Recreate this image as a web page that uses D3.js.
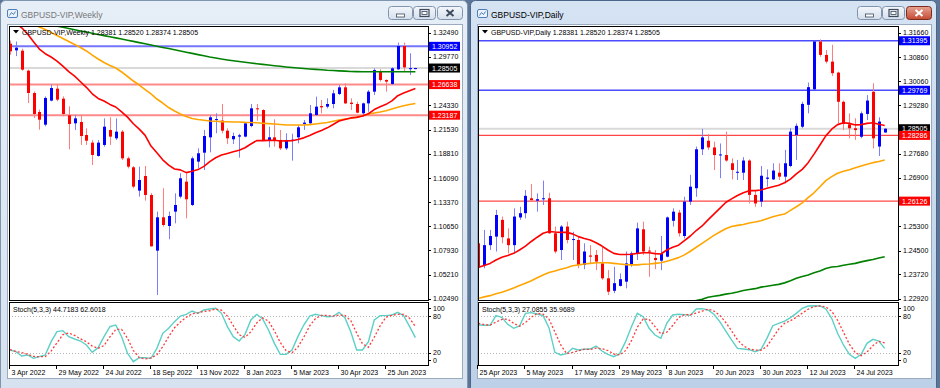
<!DOCTYPE html>
<html>
<head>
<meta charset="utf-8">
<script src="https://cdn.jsdelivr.net/npm/d3@7"></script>
<style>
  body { margin: 0; background: #fff; }
  svg { display: block; font-family: "Liberation Sans", Arial, sans-serif; }
</style>
</head>
<body>
<svg id="chart" width="940" height="388"></svg>
<script>
// ---------- weekly window data (one bar per week, 3 Apr 2022 .. 30 Jul 2023) ----------
const weeklyDateLabels = ["3 Apr 2022", "29 May 2022", "24 Jul 2022", "18 Sep 2022", "13 Nov 2022",
  "8 Jan 2023", "5 Mar 2023", "30 Apr 2023", "25 Jun 2023"];
const weeklyPriceTicks = [1.32490, 1.29770, 1.27050, 1.24330, 1.21530, 1.18810, 1.16090,
  1.13370, 1.10650, 1.07930, 1.05210, 1.02490];

const weeklyOpen = [1.3125,1.3050,1.3046,1.2821,1.2569,1.2355,1.2212,1.2483,1.2618,1.2505,
  1.2317,1.2227,1.2242,1.2095,1.2009,1.1859,1.1983,1.2152,1.2058,1.2133,
  1.1832,1.1731,1.1468,1.1633,1.1419,1.0791,1.1167,1.1069,1.1231,1.1400,
  1.1569,1.1306,1.1795,1.1896,1.2069,1.2265,1.2258,1.2144,1.2047,1.2077,
  1.2077,1.2197,1.2396,1.2377,1.2039,1.2069,1.2039,1.1945,1.2036,1.2069,
  1.2220,1.2227,1.2321,1.2422,1.2415,1.2445,1.2558,1.2633,1.2460,1.2445,
  1.2340,1.2452,1.2584,1.2810,1.2716,1.2671,1.2836,1.3099,1.2838,1.28381];
const weeklyHigh = [1.3160,1.3150,1.3069,1.2832,1.2587,1.2381,1.2531,1.2663,1.2663,1.2531,
  1.2419,1.2321,1.2321,1.2171,1.2039,1.2039,1.2283,1.2295,1.2283,1.2152,
  1.1851,1.1746,1.1738,1.1746,1.1440,1.1231,1.1494,1.1231,1.1437,1.1663,
  1.1663,1.1851,1.1945,1.2152,1.2321,1.2340,1.2445,1.2171,1.2122,1.2110,
  1.2238,1.2445,1.2445,1.2385,1.2189,1.2272,1.2152,1.2114,1.2110,1.2208,
  1.2264,1.2434,1.2528,1.2490,1.2509,1.2603,1.2659,1.2678,1.2509,1.2471,
  1.2460,1.2603,1.2847,1.2836,1.2722,1.2858,1.3137,1.3137,1.3017,1.28520];
const weeklyLow = [1.3000,1.2985,1.2821,1.2456,1.2287,1.2155,1.2193,1.2475,1.2475,1.2306,
  1.1934,1.2152,1.1983,1.1983,1.1757,1.1851,1.1964,1.1983,1.2039,1.1813,
  1.1719,1.1494,1.1400,1.1355,1.0836,1.0291,1.1062,1.0919,1.1099,1.1381,
  1.1156,1.1295,1.1719,1.1701,1.1900,1.2115,1.2114,1.1994,1.1994,1.1840,
  1.2069,1.2182,1.2257,1.2032,1.1956,1.1964,1.1926,1.1926,1.1806,1.2002,
  1.2152,1.2208,1.2310,1.2340,1.2396,1.2396,1.2546,1.2445,1.2377,1.2340,
  1.2302,1.2358,1.2546,1.2697,1.2584,1.2659,1.2828,1.2810,1.2772,1.28374];
const weeklyClose = [1.3039,1.3080,1.2832,1.2569,1.2332,1.2268,1.2513,1.2625,1.2494,1.2332,
  1.2219,1.2283,1.2084,1.2031,1.1870,1.2009,1.2189,1.2077,1.2133,1.1832,
  1.1738,1.1513,1.1588,1.1419,1.0840,1.1167,1.1080,1.1182,1.1306,1.1607,
  1.1370,1.1832,1.1889,1.2084,1.2295,1.2275,1.2144,1.2058,1.2084,1.2092,
  1.2227,1.2396,1.2385,1.2039,1.2069,1.2039,1.1945,1.2039,1.2042,1.2182,
  1.2235,1.2340,1.2415,1.2407,1.2445,1.2565,1.2633,1.2452,1.2445,1.2347,
  1.2452,1.2584,1.2828,1.2716,1.2697,1.2847,1.3099,1.2858,1.2850,1.28505];

// moving averages as they appear on the weekly chart
const weeklyMaRed = [1.3383,1.3354,1.3304,1.3234,1.3148,1.3064,1.3012,1.2975,1.2929,1.2872,
  1.2810,1.2760,1.2696,1.2633,1.2560,1.2508,1.2478,1.2440,1.2411,1.2356,
  1.2297,1.2222,1.2162,1.2091,1.1971,1.1894,1.1815,1.1755,1.1712,1.1702,
  1.1671,1.1687,1.1705,1.1741,1.1794,1.1839,1.1869,1.1887,1.1906,1.1923,
  1.1952,1.1994,1.2032,1.2032,1.2035,1.2036,1.2027,1.2029,1.2030,1.2044,
  1.2063,1.2090,1.2120,1.2147,1.2176,1.2213,1.2253,1.2271,1.2288,1.2294,
  1.2309,1.2335,1.2382,1.2414,1.2441,1.2480,1.2539,1.2569,1.2595,1.2619];
const weeklyMaOrange = [1.3482,1.3449,1.3409,1.3370,1.3341,1.3313,1.3285,1.3251,1.3217,1.3184,
  1.3150,1.3116,1.3082,1.3043,1.2997,1.2952,1.2913,1.2879,1.2851,1.2806,
  1.2755,1.2704,1.2659,1.2608,1.2558,1.2501,1.2456,1.2405,1.2366,1.2332,
  1.2304,1.2281,1.2270,1.2261,1.2253,1.2250,1.2246,1.2244,1.2242,1.2242,
  1.2238,1.2236,1.2233,1.2228,1.2224,1.2219,1.2214,1.2208,1.2208,1.2208,
  1.2208,1.2212,1.2219,1.2227,1.2236,1.2250,1.2264,1.2276,1.2285,1.2298,
  1.2312,1.2329,1.2343,1.2355,1.2369,1.2389,1.2408,1.2425,1.2439,1.2450];
const weeklyMaGreen = [1.3432,1.3418,1.3405,1.3391,1.3378,1.3364,1.3351,1.3337,1.3323,1.3310,
  1.3296,1.3283,1.3269,1.3256,1.3242,1.3229,1.3216,1.3204,1.3191,1.3178,
  1.3164,1.3151,1.3137,1.3124,1.3110,1.3097,1.3083,1.3070,1.3056,1.3043,
  1.3029,1.3016,1.3002,1.2989,1.2975,1.2964,1.2952,1.2942,1.2933,1.2924,
  1.2916,1.2907,1.2899,1.2892,1.2885,1.2877,1.2870,1.2863,1.2857,1.2851,
  1.2845,1.2840,1.2835,1.2831,1.2826,1.2823,1.2819,1.2816,1.2812,1.2810,
  1.2809,1.2808,1.2808,1.2808,1.2808,1.2808,1.2808,1.2808,1.2808,1.2808];

const weeklyStochMain = [24.4,21.7,14.6,16.2,10.7,13.5,16.2,38.0,54.4,56.0,
  46.2,42.4,39.1,32.6,20.6,28.2,46.2,62.6,65.3,46.2,
  19.0,5.3,11.8,11.8,10.7,27.1,51.7,59.9,70.8,80.0,
  82.8,88.2,84.4,89.9,91.5,92.6,84.4,62.6,46.2,39.1,
  50.0,73.5,82.8,75.1,57.1,35.3,17.3,17.3,24.4,46.2,
  65.3,80.0,82.8,80.6,78.9,79.5,86.0,77.3,54.4,24.4,
  24.4,38.0,73.5,80.6,80.6,81.7,86.0,80.6,63.0,44.72];
const weeklyStochSignal = [25.0,22.0,20.2,17.5,13.8,13.5,13.5,22.6,36.2,49.5,
  52.2,48.2,42.6,38.0,30.8,27.1,31.7,45.7,58.0,58.0,
  43.5,23.5,12.0,9.6,11.4,16.5,29.8,46.2,60.8,70.2,
  77.9,83.7,85.1,87.5,88.6,91.3,89.5,79.9,64.4,49.3,
  45.1,54.2,68.8,77.1,71.7,55.8,36.6,23.3,19.7,29.3,
  45.3,63.8,76.0,81.1,80.8,79.7,81.5,80.9,72.6,52.0,
  34.4,28.9,45.3,64.0,78.2,81.0,82.8,82.8,76.5,62.60];

const weeklyLevels = [1.30952, 1.26638, 1.23187];
const weeklyLast = [1.28381, 1.28520, 1.28374, 1.28505];
const weeklyStochLast = [44.7183, 62.6018];

// ---------- daily window data (25 Apr 2023 .. 31 Jul 2023) ----------
const dailyDateLabels = ["25 Apr 2023", "5 May 2023", "17 May 2023", "29 May 2023", "8 Jun 2023",
  "20 Jun 2023", "30 Jun 2023", "12 Jul 2023", "24 Jul 2023"];
const dailyPriceTicks = [1.31660, 1.30860, 1.30060, 1.29280, 1.28480, 1.27680, 1.26900,
  1.26120, 1.25300, 1.24500, 1.23720, 1.22920];

const dailyOpen = [1.2474,1.2403,1.2468,1.2496,1.2551,1.2490,1.2468,1.2559,1.2573,1.2622,
  1.2614,1.2619,1.2622,1.2507,1.2452,1.2529,1.2485,1.2485,1.2403,1.2434,
  1.2436,1.2408,1.2359,1.2318,1.2334,1.2348,1.2403,1.2439,1.2520,1.2450,
  1.2426,1.2417,1.2430,1.2548,1.2575,1.2498,1.2611,1.2655,1.2783,1.2811,
  1.2789,1.2763,1.2764,1.2737,1.2706,1.2706,1.2746,1.2633,1.2611,1.2686,
  1.2684,1.2706,1.2693,1.2728,1.2830,1.2857,1.2929,1.2980,1.3137,1.3093,
  1.3071,1.3035,1.2939,1.2865,1.2852,1.2824,1.2899,1.2972,1.2792,1.28381];
const dailyHigh = [1.2507,1.2518,1.2518,1.2584,1.2562,1.2523,1.2589,1.2594,1.2649,1.2669,
  1.2638,1.2680,1.2640,1.2529,1.2534,1.2545,1.2512,1.2496,1.2474,1.2468,
  1.2452,1.2463,1.2386,1.2397,1.2375,1.2447,1.2447,1.2542,1.2545,1.2463,
  1.2452,1.2498,1.2562,1.2589,1.2584,1.2627,1.2699,1.2792,1.2850,1.2833,
  1.2808,1.2802,1.2841,1.2753,1.2748,1.2757,1.2750,1.2647,1.2728,1.2717,
  1.2737,1.2737,1.2781,1.2852,1.2868,1.2939,1.3002,1.3140,1.3144,1.3109,
  1.3126,1.3038,1.2943,1.2901,1.2885,1.2907,1.2961,1.3000,1.2888,1.28520];
const dailyLow = [1.2386,1.2392,1.2452,1.2447,1.2474,1.2441,1.2441,1.2551,1.2556,1.2611,
  1.2578,1.2600,1.2505,1.2441,1.2419,1.2474,1.2419,1.2392,1.2389,1.2408,
  1.2386,1.2354,1.2304,1.2310,1.2332,1.2326,1.2397,1.2419,1.2436,1.2364,
  1.2389,1.2386,1.2428,1.2529,1.2496,1.2490,1.2600,1.2627,1.2764,1.2781,
  1.2715,1.2688,1.2742,1.2684,1.2682,1.2682,1.2605,1.2594,1.2594,1.2660,
  1.2682,1.2682,1.2671,1.2724,1.2748,1.2852,1.2901,1.2978,1.3087,1.3065,
  1.3024,1.2868,1.2846,1.2819,1.2814,1.2819,1.2879,1.2786,1.2761,1.28374];
const dailyClose = [1.2395,1.2468,1.2498,1.2567,1.2494,1.2468,1.2562,1.2573,1.2630,1.2616,
  1.2619,1.2622,1.2507,1.2447,1.2529,1.2485,1.2488,1.2403,1.2447,1.2430,
  1.2414,1.2359,1.2315,1.2343,1.2356,1.2408,1.2441,1.2523,1.2447,1.2447,
  1.2419,1.2439,1.2559,1.2578,1.2507,1.2611,1.2660,1.2783,1.2822,1.2789,
  1.2764,1.2766,1.2746,1.2715,1.2709,1.2746,1.2633,1.2605,1.2696,1.2690,
  1.2713,1.2693,1.2737,1.2841,1.2860,1.2932,1.2987,1.3137,1.3093,1.3071,
  1.3033,1.2939,1.2866,1.2852,1.2846,1.2901,1.2943,1.2819,1.2874,1.28505];

const dailyMaRed = [1.2395,1.2401,1.2408,1.2419,1.2428,1.2434,1.2441,1.2452,1.2465,1.2480,
  1.2494,1.2507,1.2513,1.2511,1.2510,1.2510,1.2505,1.2496,1.2490,1.2485,
  1.2476,1.2465,1.2452,1.2441,1.2437,1.2437,1.2438,1.2441,1.2443,1.2443,
  1.2440,1.2439,1.2452,1.2461,1.2468,1.2483,1.2498,1.2516,1.2531,1.2551,
  1.2570,1.2589,1.2608,1.2620,1.2631,1.2640,1.2647,1.2647,1.2649,1.2655,
  1.2660,1.2665,1.2673,1.2685,1.2702,1.2717,1.2739,1.2767,1.2797,1.2827,
  1.2849,1.2864,1.2870,1.2868,1.2863,1.2864,1.2868,1.2870,1.2865,1.2861];
const dailyMaOrange = [1.2293,1.2298,1.2302,1.2308,1.2313,1.2320,1.2327,1.2335,1.2343,1.2351,
  1.2361,1.2370,1.2378,1.2383,1.2389,1.2394,1.2400,1.2403,1.2406,1.2408,
  1.2410,1.2410,1.2410,1.2408,1.2406,1.2404,1.2403,1.2403,1.2405,1.2406,
  1.2408,1.2410,1.2415,1.2421,1.2427,1.2436,1.2448,1.2461,1.2474,1.2487,
  1.2500,1.2511,1.2522,1.2529,1.2533,1.2536,1.2541,1.2544,1.2548,1.2555,
  1.2561,1.2566,1.2570,1.2582,1.2594,1.2607,1.2624,1.2640,1.2660,1.2680,
  1.2693,1.2704,1.2711,1.2716,1.2722,1.2728,1.2734,1.2739,1.2743,1.2748];
const dailyMaGreen = [null,null,null,null,null,null,null,null,null,null,
  null,null,null,null,null,null,null,null,null,null,
  null,null,null,null,null,null,null,null,null,null,
  null,null,null,null,1.2270,1.2276,1.2281,1.2286,1.2290,1.2297,
  1.2300,1.2303,1.2307,1.2310,1.2314,1.2319,1.2322,1.2325,1.2330,1.2333,
  1.2336,1.2339,1.2344,1.2351,1.2359,1.2365,1.2370,1.2377,1.2383,1.2391,
  1.2396,1.2398,1.2402,1.2405,1.2408,1.2413,1.2417,1.2421,1.2426,1.2430];

const dailyStochMain = [65.3,64.8,64.8,80.6,77.9,66.4,59.9,63.7,84.4,85.5,
  83.3,80.6,60.9,20.6,16.2,18.4,27.1,24.4,25.5,26.0,
  30.9,22.7,17.3,13.5,18.4,38.0,62.6,84.4,78.9,59.9,
  48.9,43.5,68.0,81.7,82.8,82.2,81.1,91.5,92.0,89.9,
  82.8,70.8,55.5,40.8,27.1,26.0,24.9,21.7,25.5,43.5,
  64.2,68.0,71.8,77.3,84.4,92.6,96.4,96.9,96.4,91.5,
  76.2,51.7,32.6,17.3,10.7,17.3,35.3,41.8,39.1,27.09];
const dailyStochSignal = [68.0,66.0,65.0,70.1,74.4,75.0,68.1,63.3,69.3,77.9,
  84.4,83.1,74.9,54.0,32.6,18.4,20.6,23.3,25.7,25.3,
  27.5,26.5,23.6,17.8,16.4,23.3,39.7,61.7,75.3,74.4,
  62.6,50.8,53.5,64.4,77.5,82.2,82.0,84.9,88.2,91.1,
  88.2,81.2,69.7,55.7,41.1,31.3,26.0,24.2,24.0,30.2,
  44.4,58.6,68.0,72.4,77.8,84.8,91.1,95.3,96.6,94.9,
  88.0,73.1,53.5,33.9,20.2,15.1,21.1,31.5,38.7,35.97];

const dailyBlueLevels = [1.31395, 1.29769];
const dailyRedLevels = [1.28286, 1.26126];
const dailyLast = [1.28381, 1.28520, 1.28374, 1.28505];
const dailyStochLast = [27.0855, 35.9689];

const stochLevels = [20, 80];
const stochTickLabels = [100, 80, 20, 0];
const labelEvery = 8;

// ---------- drawing ----------
const svg = d3.select("#chart");
const defs = svg.append("defs");
svg.append("rect").attr("width", 940).attr("height", 388).attr("fill", "#5d7698");

const fmt5 = d3.format(".5f");
const fmt4 = d3.format(".4f");

function gradient(id, top, bottom) {
  const lg = defs.append("linearGradient").attr("id", id).attr("x1", 0).attr("y1", 0).attr("x2", 0).attr("y2", 1);
  lg.append("stop").attr("offset", "0%").attr("stop-color", top);
  lg.append("stop").attr("offset", "100%").attr("stop-color", bottom);
}
gradient("frameActive", "#d5e3f3", "#bcd0e8");
gradient("frameInactive", "#e6eef7", "#d6e2ef");
gradient("btn", "#f4f7fb", "#d4dfec");
gradient("btnClose", "#e8a493", "#c24a33");

function drawChrome(win) {
  const g = svg.append("g");
  const w = win.x1 - win.x0;
  g.append("rect")
    .attr("x", win.x0 + 0.5).attr("y", 0.5)
    .attr("width", w - 1).attr("height", 392)
    .attr("rx", 5)
    .attr("fill", win.active ? "url(#frameActive)" : "url(#frameInactive)")
    .attr("stroke", win.active ? "#4a6689" : "#7f94ae");

  // client area
  g.append("rect")
    .attr("x", win.x0 + 7.5).attr("y", 24.5)
    .attr("width", w - 13).attr("height", 354)
    .attr("fill", "#fff").attr("stroke", "#9aabbf");

  // small icon
  const ic = g.append("g").attr("transform", `translate(${win.x0 + 7},9)`);
  ic.append("rect").attr("x", 0.5).attr("y", 0.5).attr("width", 10).attr("height", 8).attr("rx", 1.5)
    .attr("fill", "#e9f2fb").attr("stroke", "#4f7fb7");
  ic.append("path").attr("d", "M2.5,6.5 L4.5,3.5 L6.5,5.5 L8.5,2.5").attr("fill", "none").attr("stroke", "#4f7fb7");

  g.append("text")
    .attr("x", win.x0 + 21).attr("y", 18)
    .attr("font-size", 8.5)
    .attr("fill", win.active ? "#000" : "#777")
    .text(win.title);

  // caption buttons
  const bx = win.x1 - 80;
  const buttons = [
    { x: bx, w: 24, kind: "min" },
    { x: bx + 25, w: 22, kind: "max" },
    { x: bx + 49, w: 25, kind: "close" }
  ];
  buttons.forEach(b => {
    const isClose = b.kind === "close" && win.active;
    g.append("rect")
      .attr("x", b.x + 0.5).attr("y", 6.5).attr("width", b.w).attr("height", 13).attr("rx", 3)
      .attr("fill", isClose ? "url(#btnClose)" : "url(#btn)")
      .attr("stroke", isClose ? "#7d2a1c" : "#8194ac");
    const cx = b.x + b.w / 2 + 0.5, cy = 13;
    if (b.kind === "min") {
      g.append("rect").attr("x", cx - 4).attr("y", cy + 1).attr("width", 8).attr("height", 3)
        .attr("fill", "#fff").attr("stroke", "#3c4a5c").attr("stroke-width", 0.8);
    } else if (b.kind === "max") {
      g.append("rect").attr("x", cx - 4.5).attr("y", cy - 3.5).attr("width", 9).attr("height", 7)
        .attr("fill", "none").attr("stroke", "#3c4a5c").attr("stroke-width", 1.2);
      g.append("rect").attr("x", cx - 2.5).attr("y", cy - 1.5).attr("width", 5).attr("height", 3)
        .attr("fill", "#fff").attr("stroke", "#3c4a5c").attr("stroke-width", 0.8);
    } else {
      g.append("path")
        .attr("d", `M${cx - 3.5},${cy - 3} L${cx + 3.5},${cy + 3} M${cx + 3.5},${cy - 3} L${cx - 3.5},${cy + 3}`)
        .attr("stroke", isClose ? "#fff" : "#3c4a5c").attr("stroke-width", 2);
    }
  });
}

function drawChart(win) {
  const n = win.close.length;
  const plotL = win.plotL, plotR = win.plotR;
  const mainTop = 26, mainBottom = 300, stochTop = 302, stochBottom = 365;

  const x = d3.scaleLinear().domain([0, n - 1]).range(win.xRange);
  const y = d3.scaleLinear().domain(win.yDomain).range([32.7, 298.7]);
  const ys = d3.scaleLinear().domain([0, 100]).range([364.9, 303.8]);

  const g = svg.append("g");

  defs.append("clipPath").attr("id", win.id + "Main")
    .append("rect").attr("x", plotL + 1).attr("y", mainTop + 1)
    .attr("width", plotR - plotL - 1).attr("height", mainBottom - mainTop - 1);
  defs.append("clipPath").attr("id", win.id + "Stoch")
    .append("rect").attr("x", plotL + 1).attr("y", stochTop + 1)
    .attr("width", plotR - plotL - 1).attr("height", stochBottom - stochTop - 1);

  const main = g.append("g").attr("clip-path", `url(#${win.id}Main)`);

  // horizontal objects
  win.levels.forEach(l => {
    main.append("line")
      .attr("x1", plotL).attr("x2", plotR)
      .attr("y1", y(l.value)).attr("y2", y(l.value))
      .attr("stroke", l.color).attr("stroke-width", l.width);
  });

  // candles
  const bars = d3.range(n).map(i => ({
    i, o: win.open[i], h: win.high[i], l: win.low[i], c: win.close[i]
  }));
  const candle = main.selectAll("g.bar").data(bars).join("g").attr("class", "bar");
  candle.append("line")
    .attr("x1", d => Math.round(x(d.i)) + 0.5).attr("x2", d => Math.round(x(d.i)) + 0.5)
    .attr("y1", d => y(d.h)).attr("y2", d => y(d.l))
    .attr("stroke", d => d.c >= d.o ? "#7d7dff" : "#ff7d7d")
    .attr("stroke-width", 1);
  candle.append("rect")
    .attr("x", d => Math.round(x(d.i)) - 1)
    .attr("width", 3)
    .attr("y", d => y(Math.max(d.o, d.c)))
    .attr("height", d => Math.max(1, y(Math.min(d.o, d.c)) - y(Math.max(d.o, d.c))))
    .attr("fill", d => d.c >= d.o ? "#0000ff" : "#ff0000");

  // moving averages
  const maLine = d3.line()
    .defined(d => d != null)
    .x((d, i) => x(i))
    .y(d => y(d));
  [[win.maGreen, "#008000"], [win.maOrange, "#ffa500"], [win.maRed, "#ff0000"]].forEach(([arr, col]) => {
    main.append("path").datum(arr)
      .attr("d", maLine)
      .attr("fill", "none").attr("stroke", col).attr("stroke-width", 1.6)
      .attr("stroke-linejoin", "round");
  });

  // frames
  g.append("rect").attr("x", plotL + 0.5).attr("y", mainTop + 0.5)
    .attr("width", plotR - plotL).attr("height", mainBottom - mainTop)
    .attr("fill", "none").attr("stroke", "#000");
  g.append("rect").attr("x", plotL + 0.5).attr("y", stochTop + 0.5)
    .attr("width", plotR - plotL).attr("height", stochBottom - stochTop)
    .attr("fill", "none").attr("stroke", "#000");

  // header
  g.append("path")
    .attr("d", `M${plotL + 4},${mainTop + 4} h6 l-3,3.5 z`)
    .attr("fill", "#000");
  g.append("text")
    .attr("x", plotL + 13).attr("y", mainTop + 8.6)
    .attr("font-size", 7).attr("fill", "#000")
    .text(`${win.title}  ${win.last.map(fmt5).join(" ")}`);

  // price axis: a scale label that sits under a price tag is hidden, as in the terminal
  const ax = g.append("g");
  const tagYs = win.tags.map(tg => y(tg.value));
  win.priceTicks.forEach(t => {
    const ty = y(t);
    ax.append("line").attr("x1", plotR).attr("x2", plotR + 3)
      .attr("y1", Math.round(ty) + 0.5).attr("y2", Math.round(ty) + 0.5).attr("stroke", "#000");
    if (tagYs.some(v => Math.abs(v - ty) < 8)) return;
    ax.append("text").attr("x", plotR + 5).attr("y", ty + 2.5)
      .attr("font-size", 7).attr("fill", "#000").text(fmt5(t));
  });
  win.tags.forEach(tg => {
    const ty = y(tg.value);
    ax.append("rect").attr("x", plotR + 1).attr("y", ty - 4.5).attr("width", 31).attr("height", 9)
      .attr("fill", tg.color);
    ax.append("text").attr("x", plotR + 4).attr("y", ty + 2.5)
      .attr("font-size", 7).attr("fill", "#fff").text(fmt5(tg.value));
  });

  // stochastic
  const st = g.append("g").attr("clip-path", `url(#${win.id}Stoch)`);
  stochLevels.forEach(v => {
    st.append("line").attr("x1", plotL).attr("x2", plotR)
      .attr("y1", Math.round(ys(v)) + 0.5).attr("y2", Math.round(ys(v)) + 0.5)
      .attr("stroke", "#b4b4b4").attr("stroke-dasharray", "1,2");
  });
  const stLine = d3.line().x((d, i) => x(i)).y(d => ys(d));
  st.append("path").datum(win.stochMain).attr("d", stLine)
    .attr("fill", "none").attr("stroke", "#5cd0c6").attr("stroke-width", 1.4);
  st.append("path").datum(win.stochSignal).attr("d", stLine)
    .attr("fill", "none").attr("stroke", "#ff3b3b").attr("stroke-width", 1.3)
    .attr("stroke-dasharray", "2,2");

  g.append("text").attr("x", plotL + 4).attr("y", stochTop + 10)
    .attr("font-size", 7).attr("fill", "#000")
    .text(`Stoch(5,3,3) ${win.stochLast.map(fmt4).join(" ")}`);

  stochTickLabels.forEach(v => {
    const ty = Math.max(stochTop + 6, Math.min(stochBottom - 5, ys(v)));
    g.append("line").attr("x1", plotR).attr("x2", plotR + 3)
      .attr("y1", Math.round(ty) + 0.5).attr("y2", Math.round(ty) + 0.5).attr("stroke", "#000");
    g.append("text").attr("x", plotR + 5).attr("y", ty + 2.5)
      .attr("font-size", 7).attr("fill", "#000").text(v);
  });

  // date axis
  win.dateLabels.forEach((lab, k) => {
    const xi = Math.round(x(k * labelEvery)) - 0.5;
    g.append("line").attr("x1", xi).attr("x2", xi).attr("y1", stochBottom).attr("y2", stochBottom + 4)
      .attr("stroke", "#000");
    g.append("text").attr("x", xi + 2).attr("y", stochBottom + 10)
      .attr("font-size", 7).attr("fill", "#000").text(lab);
  });
}

const weeklyWin = {
  id: "weekly", title: "GBPUSD-VIP,Weekly", x0: 0, x1: 468, active: false,
  plotL: 9, plotR: 428, xRange: [10, 415.4], yDomain: [1.3249, 1.0249],
  open: weeklyOpen, high: weeklyHigh, low: weeklyLow, close: weeklyClose,
  maRed: weeklyMaRed, maOrange: weeklyMaOrange, maGreen: weeklyMaGreen,
  stochMain: weeklyStochMain, stochSignal: weeklyStochSignal, stochLast: weeklyStochLast,
  last: weeklyLast, priceTicks: weeklyPriceTicks, dateLabels: weeklyDateLabels,
  levels: [
    { value: weeklyLevels[0], color: "#7474ff", width: 2 },
    { value: weeklyLast[3], color: "#d9d9d9", width: 2 },
    { value: weeklyLevels[1], color: "#ff8a8a", width: 2 },
    { value: weeklyLevels[2], color: "#ff8a8a", width: 2 }
  ],
  tags: [
    { value: weeklyLevels[0], color: "#0000ff" },
    { value: weeklyLast[3], color: "#000000" },
    { value: weeklyLevels[1], color: "#ff0000" },
    { value: weeklyLevels[2], color: "#ff0000" }
  ]
};

const dailyWin = {
  id: "daily", title: "GBPUSD-VIP,Daily", x0: 470, x1: 937, active: true,
  plotL: 478, plotR: 898, xRange: [478.3, 884.7], yDomain: [1.3166, 1.2292],
  open: dailyOpen, high: dailyHigh, low: dailyLow, close: dailyClose,
  maRed: dailyMaRed, maOrange: dailyMaOrange, maGreen: dailyMaGreen,
  stochMain: dailyStochMain, stochSignal: dailyStochSignal, stochLast: dailyStochLast,
  last: dailyLast, priceTicks: dailyPriceTicks, dateLabels: dailyDateLabels,
  levels: [
    { value: dailyBlueLevels[0], color: "#4b4bff", width: 1.6 },
    { value: dailyBlueLevels[1], color: "#4b4bff", width: 1.6 },
    { value: dailyLast[3], color: "#d9d9d9", width: 2 },
    { value: dailyRedLevels[0], color: "#ff4646", width: 1.3 },
    { value: dailyRedLevels[1], color: "#ff4646", width: 1.3 }
  ],
  tags: [
    { value: dailyBlueLevels[0], color: "#0000ff" },
    { value: dailyBlueLevels[1], color: "#0000ff" },
    { value: dailyLast[3], color: "#000000" },
    { value: dailyRedLevels[0], color: "#ff0000" },
    { value: dailyRedLevels[1], color: "#ff0000" }
  ]
};

drawChrome(weeklyWin);
drawChrome(dailyWin);
drawChart(weeklyWin);
drawChart(dailyWin);
</script>
</body>
</html>
